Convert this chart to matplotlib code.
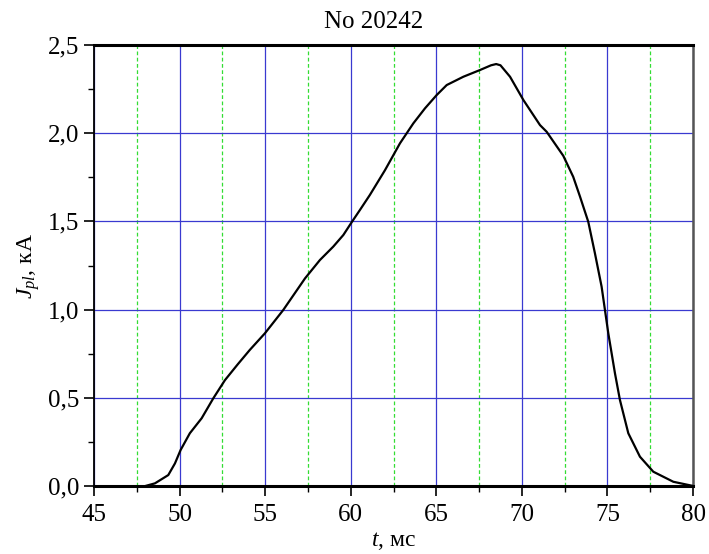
import matplotlib
matplotlib.use("Agg")
import matplotlib.pyplot as plt
from matplotlib.ticker import MultipleLocator, FuncFormatter

t_ms = [48.0, 48.56, 49.34, 49.73, 50.06, 50.6, 51.29, 51.97, 52.65, 53.4, 54.1,
        54.99, 56.06, 57.33, 58.2, 58.98, 59.57, 60.02, 60.54, 61.12, 62.0, 62.88,
        63.66, 64.34, 65.02, 65.61, 66.58, 67.55, 68.2, 68.5, 68.75, 69.31, 70.09,
        71.06, 71.45, 72.42, 73.0, 73.4, 73.88, 74.27, 74.66, 75.05, 75.44, 75.73,
        76.22, 76.9, 77.68, 78.85, 79.92]
j_ka = [0.0, 0.015, 0.062, 0.128, 0.204, 0.299, 0.384, 0.497, 0.60, 0.69, 0.771,
        0.866, 0.998, 1.177, 1.281, 1.357, 1.423, 1.49, 1.565, 1.65, 1.79, 1.943,
        2.056, 2.141, 2.216, 2.273, 2.32, 2.358, 2.385, 2.392, 2.385, 2.32, 2.188,
        2.046, 2.008, 1.872, 1.753, 1.64, 1.498, 1.319, 1.13, 0.866, 0.639, 0.488,
        0.299, 0.166, 0.081, 0.024, 0.002]

x_lim = (45, 80)
y_lim = (0, 2.5)
title = "No 20242"

plt.rcParams['font.family'] = ['Liberation Serif', 'DejaVu Serif']
plt.rcParams['mathtext.fontset'] = 'custom'
plt.rcParams['mathtext.rm'] = 'Liberation Serif'
plt.rcParams['mathtext.it'] = 'Liberation Serif:italic'

fig = plt.figure(figsize=(7.09, 5.54), dpi=100)
ax = fig.add_axes([94/709, 68/554, 599/709, 441/554])

ax.plot(t_ms, j_ka, color='black', lw=1.6, zorder=3, solid_joinstyle='round')
ax.set_xlim(*x_lim)
ax.set_ylim(*y_lim)

ax.xaxis.set_major_locator(MultipleLocator(5))
ax.xaxis.set_minor_locator(MultipleLocator(2.5))
ax.yaxis.set_major_locator(MultipleLocator(0.5))
ax.yaxis.set_minor_locator(MultipleLocator(0.25))
ax.yaxis.set_major_formatter(FuncFormatter(lambda v, p: f"{v:.1f}".replace('.', ',')))

ax.grid(which='major', axis='both', color='#3a3ad0', lw=0.9, linestyle='-')
ax.grid(which='minor', axis='x', color='#33dd33', lw=0.9, linestyle=(0, (3, 2)))

ax.tick_params(which='major', direction='out', length=7, width=1.2, labelsize=18, colors='black')
ax.tick_params(which='minor', direction='out', length=4, width=1.0)
ax.tick_params(axis='x', pad=6)

ax.spines['top'].set_linewidth(2.2)
ax.spines['bottom'].set_linewidth(2.2)
ax.spines['left'].set_linewidth(1.3)
ax.spines['right'].set_linewidth(1.8)
ax.spines['right'].set_color('#555555')

ax.set_title(title, fontsize=18, pad=12, x=0.467)
ax.set_xlabel(r"$\mathit{t}$, мс", fontsize=17, labelpad=3)
ax.set_ylabel(r"$\mathit{J}_{\mathit{pl}}$, кА", fontsize=17, labelpad=4)

fig.savefig("out.png", dpi=100)
